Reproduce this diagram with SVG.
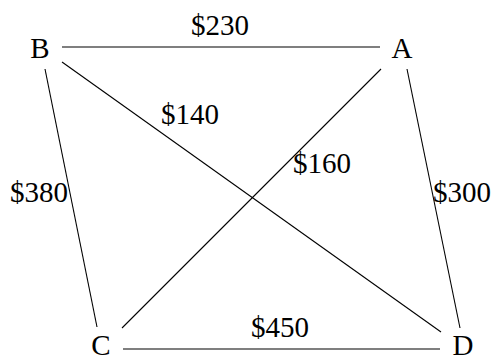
<svg xmlns="http://www.w3.org/2000/svg" width="494" height="362" viewBox="0 0 494 362">
<style>
text{font-family:"Liberation Serif","DejaVu Serif",serif;font-size:29px;fill:#000}
.n{text-anchor:middle}
.e line{stroke:#000;stroke-width:1.1}
</style>
<rect width="494" height="362" fill="#fff"/>
<g class="e" id="connectors">
<line x1="62" y1="47" x2="380" y2="47"/>
<line x1="45" y1="69" x2="97" y2="327"/>
<line x1="62" y1="62" x2="441" y2="332"/>
<line x1="381" y1="69" x2="122" y2="328"/>
<line x1="407" y1="69" x2="460" y2="328"/>
<line x1="123" y1="349" x2="440" y2="349"/>
<text x="191" y="35">$230</text>
<text x="161" y="124">$140</text>
<text x="293" y="173">$160</text>
<text x="10" y="202">$380</text>
<text x="433" y="202">$300</text>
<text x="251" y="337">$450</text>
</g>
<g id="B"><text class="n" x="40" y="58">B</text></g>
<g id="A"><text class="n" x="402" y="58">A</text></g>
<g id="C"><text class="n" x="101" y="355">C</text></g>
<g id="D"><text class="n" x="463" y="355">D</text></g>
</svg>
